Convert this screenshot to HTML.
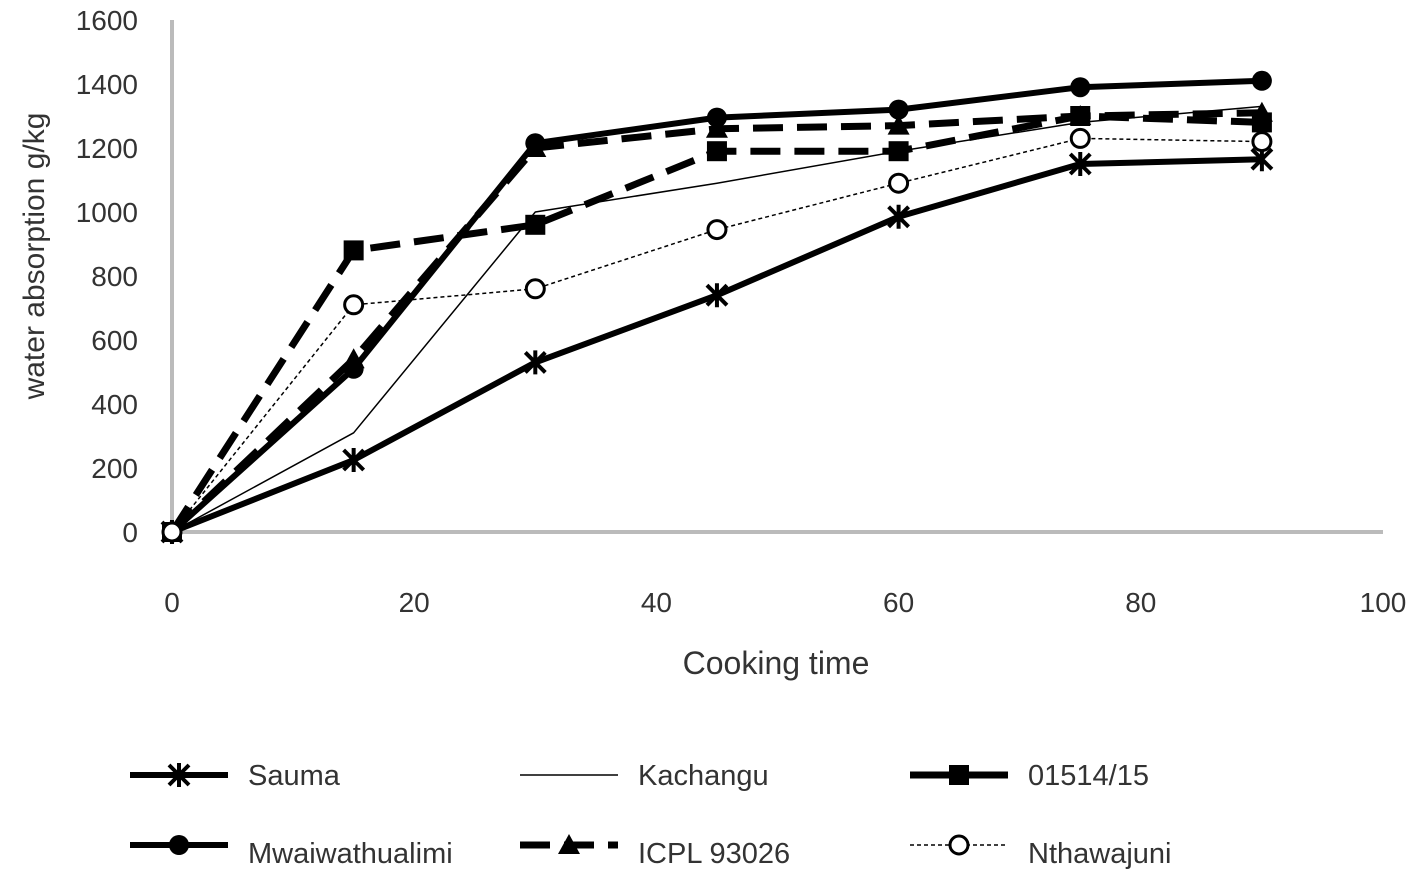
<!DOCTYPE html>
<html><head><meta charset="utf-8"><style>
html,body{margin:0;padding:0;background:#fff}
svg text{font-family:"Liberation Sans",sans-serif;fill:#333}
</style></head><body>
<svg width="1417" height="888" viewBox="0 0 1417 888" xmlns="http://www.w3.org/2000/svg">
<g id="axes"></g><g id="series"></g><g id="legend"></g>
</svg>
<script>
const times=[0,15,30,45,60,75,90];
const sauma=[0,225,530,740,985,1150,1165];
const kachangu=[0,310,1000,1090,1190,1280,1330];
const s01514=[0,880,960,1190,1190,1300,1280];
const mwaiwa=[0,510,1215,1295,1320,1390,1410];
const icpl=[0,540,1200,1260,1270,1300,1310];
const nthawa=[0,710,760,945,1090,1230,1220];
const xTicks=[0,20,40,60,80,100];
const yTicks=[0,200,400,600,800,1000,1200,1400,1600];
const names=["Sauma","Kachangu","01514/15","Mwaiwathualimi","ICPL 93026","Nthawajuni"];

const NS="http://www.w3.org/2000/svg";
const X=v=>172+v*12.11, Y=v=>532-v*0.32;
function mk(tag,attrs,parent){const e=document.createElementNS(NS,tag);for(const k in attrs)e.setAttribute(k,attrs[k]);parent.appendChild(e);return e;}
const ax=document.getElementById('axes'),sg=document.getElementById('series'),lg=document.getElementById('legend');
let l=mk('line',{x1:172,y1:Y(1600),x2:172,y2:Y(0),stroke:'#bbb','stroke-width':4},ax);


l=mk('line',{x1:172,y1:Y(0),x2:X(100),y2:Y(0),stroke:'#bbb','stroke-width':4},ax);


yTicks.forEach(v=>{const t=mk('text',{x:138,y:Y(v)+10,'text-anchor':'end','font-size':28},ax);t.textContent=v;

});
xTicks.forEach(v=>{const t=mk('text',{x:X(v),y:612,'text-anchor':'middle','font-size':28},ax);t.textContent=v;

});
let t=mk('text',{x:776,y:674,'text-anchor':'middle','font-size':32},ax);t.textContent='Cooking time';


t=mk('text',{x:0,y:0,'text-anchor':'middle','font-size':30,transform:'translate(44,256) rotate(-90)'},ax);t.textContent='water absorption g/kg';



function marker(type,x,y,g){
 if(type==='x'){mk('path',{d:`M${x-10},${y-10}L${x+10},${y+10}M${x+10},${y-10}L${x-10},${y+10}M${x},${y-12}L${x},${y+12}`,stroke:'#000','stroke-width':4},g);}
 else if(type==='sq'){mk('rect',{x:x-10,y:y-10,width:20,height:20,fill:'#000'},g);}
 else if(type==='dot'){mk('circle',{cx:x,cy:y,r:10,fill:'#000'},g);}
 else if(type==='tri'){mk('path',{d:`M${x},${y-11}L${x+11},${y+9}L${x-11},${y+9}Z`,fill:'#000'},g);}
 else if(type==='o'){mk('circle',{cx:x,cy:y,r:9,fill:'#fff',stroke:'#000','stroke-width':3},g);}
}
const defs=[
 {d:sauma,w:6,dash:'',m:'x',ld:'',key:'sauma'},
 {d:kachangu,w:1.5,dash:'',m:null,ld:'',key:'kachangu'},
 {d:s01514,w:7,dash:'30,14',m:'sq',ld:'',key:'01514-15'},
 {d:mwaiwa,w:6,dash:'',m:'dot',ld:'',key:'mwaiwathualimi'},
 {d:icpl,w:7,dash:'30,14',m:'tri',ld:'30,14',key:'icpl-93026'},
 {d:nthawa,w:1.5,dash:'4,3',m:'o',ld:'4,3',key:'nthawajuni'}
];
defs.forEach((s,i)=>{
 const g=mk('g',{},sg);
 
 
 const pts=s.d.map((v,j)=>X(times[j])+','+Y(v)).join(' ');
 mk('polyline',{points:pts,fill:'none',stroke:'#000','stroke-width':s.w,'stroke-dasharray':s.dash,'stroke-linejoin':'round'},g);
 if(s.m) s.d.forEach((v,j)=>marker(s.m,X(times[j]),Y(v),g));
 const col=i%3,row=Math.floor(i/3);
 const lx=[130,520,910][col], ly=[775,845][row];
 const e=mk('g',{},lg);
 
 
 mk('line',{x1:lx,y1:ly,x2:lx+98,y2:ly,stroke:'#000','stroke-width':s.w,'stroke-dasharray':s.ld},e);
 if(s.m) marker(s.m,lx+49,ly,e);
 const tx=mk('text',{x:lx+118,y:ly+(row?18:10),'font-size':29},e);tx.textContent=names[i];
});
</script>
</body></html>
